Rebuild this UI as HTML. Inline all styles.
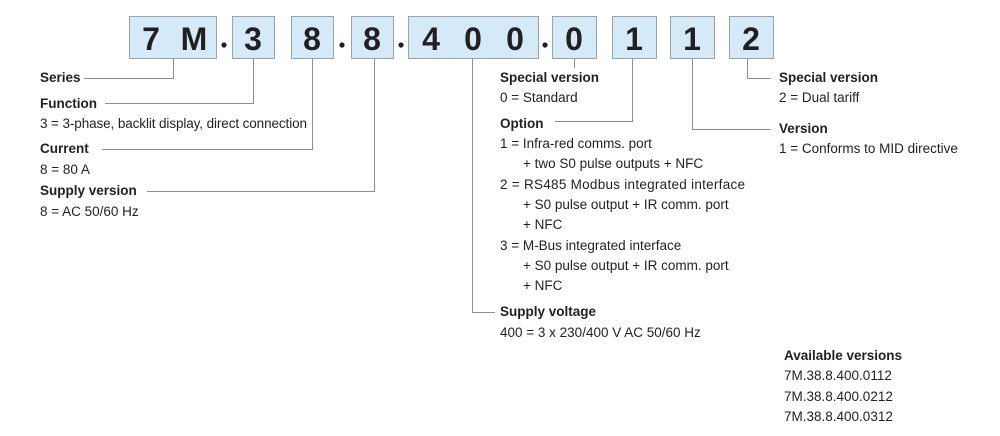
<!DOCTYPE html>
<html><head><meta charset="utf-8"><style>
html,body{margin:0;padding:0;background:#fff;}
svg{display:block;}
text{font-family:"Liberation Sans",sans-serif;fill:#231f20;}
.b{font-weight:bold;}
.d{font-size:32px;font-weight:bold;text-anchor:middle;}
.t{font-size:13.5px;}
</style></head><body>
<svg width="1000" height="436" viewBox="0 0 1000 436" xmlns="http://www.w3.org/2000/svg">
<g fill="#d5eaf9" stroke="#9aa3aa" stroke-width="1">
<rect x="129.5" y="16.5" width="87" height="42"/>
<rect x="232.5" y="16.5" width="42" height="42"/>
<rect x="291.5" y="16.5" width="42" height="42"/>
<rect x="351.5" y="16.5" width="42" height="42"/>
<rect x="408.5" y="16.5" width="130" height="42"/>
<rect x="552.5" y="16.5" width="44" height="42"/>
<rect x="612.5" y="16.5" width="44" height="42"/>
<rect x="670.5" y="16.5" width="44" height="42"/>
<rect x="729.5" y="16.5" width="44" height="42"/>
</g>
<g class="d">
<text class="d" x="151" y="50">7</text>
<text class="d" x="194" y="50">M</text>
<text class="d" x="253" y="50">3</text>
<text class="d" x="312" y="50">8</text>
<text class="d" x="372" y="50">8</text>
<text class="d" x="431" y="50">4</text>
<text class="d" x="473" y="50">0</text>
<text class="d" x="515" y="50">0</text>
<text class="d" x="574" y="50">0</text>
<text class="d" x="634" y="50">1</text>
<text class="d" x="692" y="50">1</text>
<text class="d" x="751" y="50">2</text>
</g>
<g fill="#231f20">
<circle cx="224" cy="45" r="2.6"/><circle cx="342" cy="45" r="2.6"/><circle cx="401" cy="45" r="2.6"/><circle cx="545" cy="45" r="2.6"/>
</g>
<g fill="none" stroke="#8a8f93" stroke-width="1">
<polyline points="173.5,59 173.5,78.5 84,78.5"/>
<polyline points="253.5,59 253.5,103.5 105,103.5"/>
<polyline points="312.5,59 312.5,149.5 102,149.5"/>
<polyline points="374.5,59 374.5,191.5 147,191.5"/>
<polyline points="472.5,59 472.5,312.5 495,312.5"/>
<polyline points="574.5,59 574.5,68"/>
<polyline points="632.5,59 632.5,121.5 555,121.5"/>
<polyline points="692.5,59 692.5,129.5 771,129.5"/>
<polyline points="747.5,59 747.5,78.5 771,78.5"/>
</g>
<g class="t">
<text class="t b" x="40" y="82">Series</text>
<text class="t b" x="40" y="108">Function</text>
<text class="t" x="40" y="128" textLength="267">3 = 3-phase, backlit display, direct connection</text>
<text class="t b" x="40" y="153">Current</text>
<text class="t" x="40" y="174">8 = 80 A</text>
<text class="t b" x="40" y="195">Supply version</text>
<text class="t" x="40" y="216">8 = AC 50/60 Hz</text>

<text class="t b" x="500" y="82">Special version</text>
<text class="t" x="500" y="102">0 = Standard</text>
<text class="t b" x="500" y="128">Option</text>
<text class="t" x="500" y="148">1 = Infra-red comms. port</text>
<text class="t" x="523" y="168">+ two S0 pulse outputs + NFC</text>
<text class="t" x="500" y="189" textLength="245">2 = RS485 Modbus integrated interface</text>
<text class="t" x="523" y="209">+ S0 pulse output + IR comm. port</text>
<text class="t" x="523" y="229">+ NFC</text>
<text class="t" x="500" y="250">3 = M-Bus integrated interface</text>
<text class="t" x="523" y="270">+ S0 pulse output + IR comm. port</text>
<text class="t" x="523" y="290">+ NFC</text>
<text class="t b" x="500" y="316">Supply voltage</text>
<text class="t" x="500" y="337">400 = 3 x 230/400 V AC 50/60 Hz</text>

<text class="t b" x="779" y="82">Special version</text>
<text class="t" x="779" y="102">2 = Dual tariff</text>
<text class="t b" x="779" y="133">Version</text>
<text class="t" x="779" y="153">1 = Conforms to MID directive</text>

<text class="t b" x="784" y="360">Available versions</text>
<text class="t" x="784" y="380">7M.38.8.400.0112</text>
<text class="t" x="784" y="401">7M.38.8.400.0212</text>
<text class="t" x="784" y="421">7M.38.8.400.0312</text>
</g>
</svg>
</body></html>
